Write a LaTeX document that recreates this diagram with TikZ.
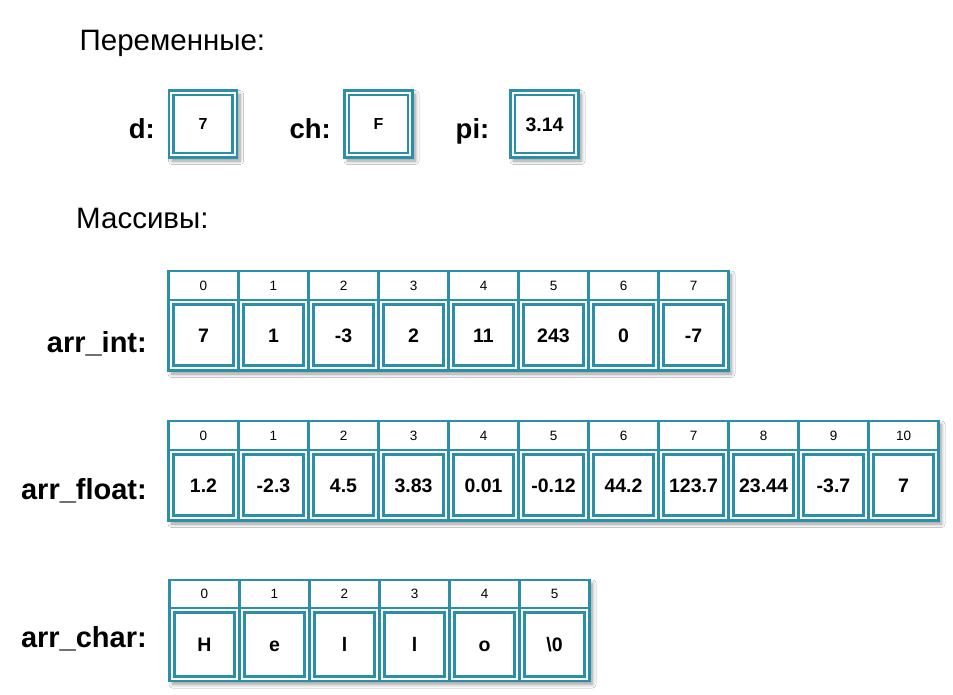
\documentclass[tikz,border=0pt]{standalone}
\usepackage{fontspec}
\setmainfont{Liberation Sans}
\usetikzlibrary{shadows.blur}
\definecolor{cellteal}{RGB}{43,143,170}
\tikzset{
  cellbase/.style={draw=cellteal, line width=2.8pt, fill=white, inner sep=0pt, outer sep=0pt, anchor=north west, text depth=0pt},
  idxcell/.style={cellbase, minimum width=70pt, font=\fontsize{13.5}{13.5}\selectfont, text height=9.7pt},
  valcell/.style={cellbase, minimum width=70pt, font=\bfseries\fontsize{19.5}{19.5}\selectfont, text height=14pt},
  varcell/.style={cellbase, minimum width=68pt, minimum height=67pt},
  innerbox/.style={draw=cellteal, line width=2.8pt},
  boxshadow/.style={blur shadow={shadow xshift=3pt, shadow yshift=-3.5pt, shadow opacity=40, shadow blur radius=3.5pt, shadow blur steps=8}},
  title/.style={font=\fontsize{29.5}{29.5}\selectfont, anchor=base west, inner sep=0pt},
  varlabel/.style={font=\bfseries\fontsize{27.5}{27.5}\selectfont, anchor=base east, inner sep=0pt},
  arrlabel/.style={font=\bfseries\fontsize{29}{29}\selectfont, anchor=base east, inner sep=0pt},
}
\begin{document}
\begin{tikzpicture}[x=1pt, y=-1pt]
\useasboundingbox[fill=white] (0,0) rectangle (953,694);

% titles
\node[title] (t1) at (79.5,50) {Переменные:};
\node[title] (t2) at (76,228) {Массивы:};

% variables
\node[varlabel] (ld) at (155,138) {d:};
\node[varlabel] (lch) at (331,138) {ch:};
\node[varlabel] (lpi) at (489.5,138) {pi:};

\path[boxshadow] (169,90.5) rectangle (237,157.5);
\path[boxshadow] (344.5,90.5) rectangle (412.5,157.5);
\path[boxshadow] (510.5,90.5) rectangle (578.5,157.5);
\node[varcell, font=\bfseries\fontsize{16}{16}\selectfont, text height=11.5pt] (vd) at (169,90.5) {7};
\node[varcell, font=\bfseries\fontsize{16}{16}\selectfont, text height=11.5pt] (vch) at (344.5,90.5) {F};
\node[varcell, font=\bfseries\fontsize{19.5}{19.5}\selectfont, text height=14pt] (vpi) at (510.5,90.5) {3.14};
\foreach \n in {vd,vch,vpi}
  \draw[innerbox] ([xshift=4.5pt,yshift=-4.5pt]\n.north west) rectangle ([xshift=-4.5pt,yshift=4.5pt]\n.south east);

% arr_int
\node[arrlabel] (lint) at (147,352) {arr\_int:};
\path[boxshadow] (168.5,271) rectangle (728.5,370.5);
\foreach \v [count=\i from 0] in {7,1,-3,2,11,243,0,-7} {
  \node[idxcell, minimum height=29pt] (ai\i) at ({168.5+70*\i},271) {\i};
  \node[valcell, minimum height=70.5pt] (av\i) at ({168.5+70*\i},300) {\v};
  \draw[innerbox] ([xshift=4.75pt,yshift=-4.75pt]av\i.north west) rectangle ([xshift=-4.75pt,yshift=4.75pt]av\i.south east);
}

% arr_float
\node[arrlabel] (lfloat) at (147,499) {arr\_float:};
\path[boxshadow] (168.5,421) rectangle (938.5,520.5);
\foreach \v [count=\i from 0] in {1.2,-2.3,4.5,3.83,0.01,-0.12,44.2,123.7,23.44,-3.7,7} {
  \node[idxcell, minimum height=29pt] (fi\i) at ({168.5+70*\i},421) {\i};
  \node[valcell, minimum height=70.5pt] (fv\i) at ({168.5+70*\i},450) {\v};
  \draw[innerbox] ([xshift=4.75pt,yshift=-4.75pt]fv\i.north west) rectangle ([xshift=-4.75pt,yshift=4.75pt]fv\i.south east);
}

% arr_char
\node[arrlabel] (lchar) at (147,647) {arr\_char:};
\path[boxshadow] (169.5,580) rectangle (589.5,681);
\foreach \v [count=\i from 0] in {H,e,l,l,o,{\textbackslash 0}} {
  \node[idxcell, minimum height=28pt] (ci\i) at ({169.5+70*\i},580) {\i};
  \node[valcell, minimum height=73pt] (cv\i) at ({169.5+70*\i},608) {\v};
  \draw[innerbox] ([xshift=4.75pt,yshift=-4.75pt]cv\i.north west) rectangle ([xshift=-4.75pt,yshift=4.75pt]cv\i.south east);
}
\end{tikzpicture}
\end{document}
